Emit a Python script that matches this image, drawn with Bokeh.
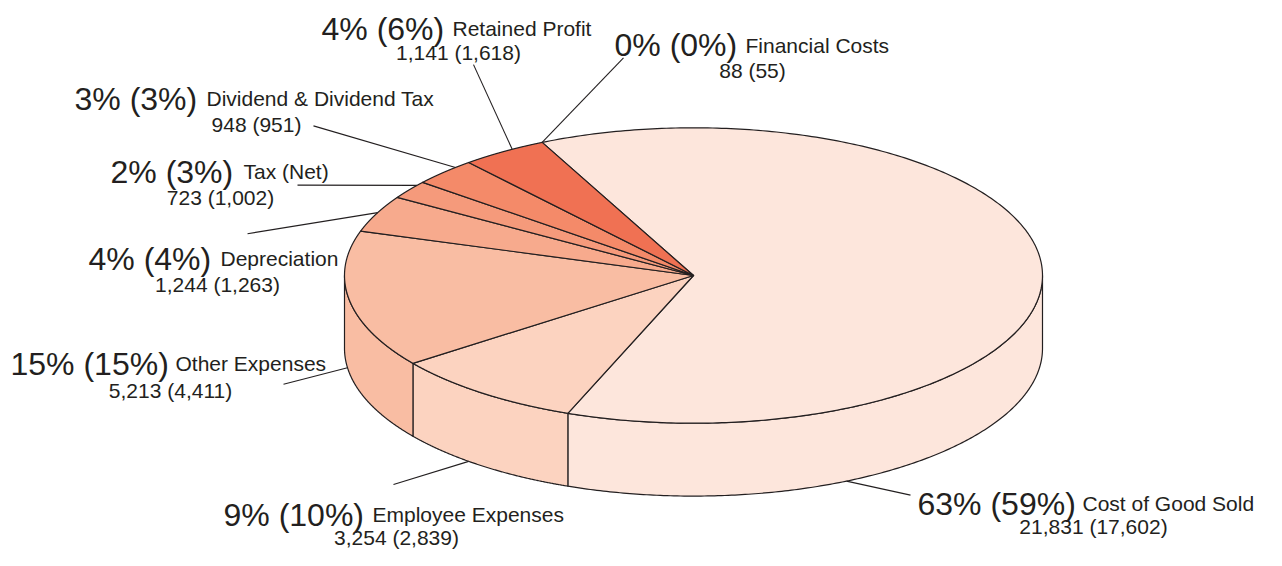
import numpy as np
from bokeh.plotting import figure
from bokeh.models import Range1d, ColumnDataSource
from bokeh.embed import file_html
from bokeh.resources import INLINE
from bokeh.core.properties import value

# ---------------- data ----------------
categories = ["Cost of Good  Sold", "Employee Expenses", "Other Expenses", "Depreciation",
              "Tax (Net)", "Dividend & Dividend Tax", "Retained Profit", "Financial Costs"]
pct_current = [63, 9, 15, 4, 2, 3, 4, 0]
pct_previous = [59, 10, 15, 4, 3, 3, 6, 0]
value_current = [21831, 3254, 5213, 1244, 723, 948, 1141, 88]
value_previous = [17602, 2839, 4411, 1263, 1002, 951, 1618, 55]
colors = ["#FDE6DC", "#FCD3C0", "#F9BDA3", "#F7AA8D", "#F59A7B", "#F48A69", "#F07153", "#EE6446"]

# ---------------- layout ----------------
W, H = 1266, 550
CX, CY, RX, RY, DEPTH = 693, 287, 349, 152, 75
START = 115.7           # degrees, counter-clockwise from east; slices run clockwise
INK = "#231F20"
FONT = value("Liberation Sans")

# label layout: big-text x, name x, value-line centre x, baseline y of first line, baseline of second line
big_x = [917, 223, 10, 88, 110, 74, 321, 614]
name_x = [1082, 372, 175, 220, 243, 206, 452, 745]
val_cx = [1093, 396, 170, 217, 220, 256, 458, 752]
line1_y = [522, 533, 378, 270, 180, 105, 33, 50]
line2_y = [545, 557, 405, 296, 207, 132, 57, 76]
# leader lines: label-side start point, and the pie-edge angle / whether on lower (side) edge
lead_x0 = [910, 393, 283, 247, 297, 313, 473, 623]
lead_y0 = [513, 502, 399, 244, 194, 133, 70, 63]
lead_t = [296.0, 229.9, 187.5, 154.8, 142.4, 133.0, 121.3, None]
lead_bottom = [True, True, True, False, False, False, False, False]

p = figure(width=W, height=H, x_range=Range1d(0, W), y_range=Range1d(570, 4),
           output_backend="svg", toolbar_location=None, min_border=0,
           x_axis_type=None, y_axis_type=None)
p.grid.visible = False
p.outline_line_color = None
p.background_fill_color = "white"


def ell(t_deg, drop=0.0):
    t = np.radians(t_deg)
    return CX + RX * np.cos(t), CY - RY * np.sin(t) + drop


cum = np.concatenate([[0], np.cumsum(pct_current)]) * 3.6
his = START - cum[:-1]
los = START - cum[1:]

# ---- side walls (front half only) ----
side_xs, side_ys, side_c = [], [], []
for lo, hi, c in zip(los, his, colors):
    if hi - lo <= 0:
        continue
    for k in range(-2, 2):
        a = max(lo, 180 + 360 * k)
        b = min(hi, 360 + 360 * k)
        if b - a > 1e-6:
            t = np.linspace(a, b, 200)
            x1, y1 = ell(t)
            x2, y2 = ell(t[::-1], DEPTH)
            side_xs.append(list(np.concatenate([x1, x2])))
            side_ys.append(list(np.concatenate([y1, y2])))
            side_c.append(c)
p.patches(xs=side_xs, ys=side_ys, fill_color=side_c, line_color=INK, line_width=1.2,
          line_join="round")

# ---- top faces ----
top_xs, top_ys, top_c = [], [], []
for lo, hi, c in zip(los, his, colors):
    if hi - lo <= 0:
        continue
    t = np.linspace(lo, hi, 300)
    x, y = ell(t)
    top_xs.append([CX] + list(x))
    top_ys.append([CY] + list(y))
    top_c.append(c)
p.patches(xs=top_xs, ys=top_ys, fill_color=top_c, line_color=INK, line_width=1.2,
          line_join="round")

# ---- leader lines ----
x1s, y1s = [], []
for i in range(len(categories)):
    t = lead_t[i] if lead_t[i] is not None else his[i]
    ex, ey = ell(t, DEPTH if lead_bottom[i] else 0.0)
    x1s.append(float(ex))
    y1s.append(float(ey))
p.segment(x0=lead_x0, y0=lead_y0, x1=x1s, y1=y1s, line_color=INK, line_width=1.1)

# ---- labels ----
big = [f"{c}% ({pv}%)" for c, pv in zip(pct_current, pct_previous)]
vals = [f"{v:,} ({pv:,})" for v, pv in zip(value_current, value_previous)]
src = ColumnDataSource(dict(bx=big_x, nx=name_x, vx=val_cx, y1=line1_y, y2=line2_y,
                            big=big, name=categories, val=vals))
p.text(x="bx", y="y1", text="big", source=src, text_font=FONT, text_font_size="32px",
       text_color=INK, text_align="left", text_baseline="alphabetic")
p.text(x="nx", y="y1", text="name", source=src, text_font=FONT, text_font_size="21px",
       text_color=INK, text_align="left", text_baseline="alphabetic")
p.text(x="vx", y="y2", text="val", source=src, text_font=FONT, text_font_size="21px",
       text_color=INK, text_align="center", text_baseline="alphabetic")

open("out.html", "w").write(file_html(p, INLINE))
